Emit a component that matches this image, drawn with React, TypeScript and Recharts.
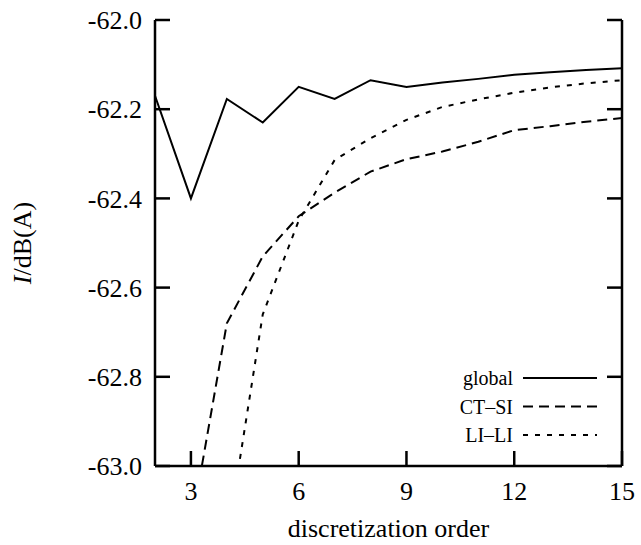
import React from 'react';
import { LineChart, Line, XAxis, YAxis, Legend, Label } from 'recharts';

const orders = [2, 3, 4, 5, 6, 7, 8, 9, 10, 11, 12, 13, 14, 15];
const globalVals = [-62.17, -62.4, -62.177, -62.23, -62.15, -62.177, -62.135, -62.15, -62.14, -62.132, -62.123, -62.117, -62.112, -62.108];
const ctsiVals = [null, -63.14, -62.68, -62.53, -62.44, -62.387, -62.34, -62.312, -62.295, -62.273, -62.247, -62.238, -62.228, -62.22];
const liliVals = [null, null, -63.17, -62.66, -62.45, -62.314, -62.265, -62.224, -62.195, -62.178, -62.163, -62.151, -62.142, -62.135];

const seriesKeys = ['global', 'ctsi', 'lili'];
const xTicks = [3, 6, 9, 12, 15];
const yTicks = [-63.0, -62.8, -62.6, -62.4, -62.2, -62.0];

const data = orders.map((o, i) => ({
  order: o,
  global: globalVals[i],
  ctsi: ctsiVals[i],
  lili: liliVals[i],
}));

const FONT = '"Liberation Serif", "DejaVu Serif", serif';
const TICK_LEN = 15;
const SW = 2.5;
const dashes: Record<string, string | undefined> = { global: undefined, ctsi: '10 6', lili: '5 7' };

const BottomTick = (props: any) => {
  const { x, y, payload } = props;
  const axisY = y - 16;
  return (
    <g>
      <line x1={x} x2={x} y1={axisY} y2={axisY - TICK_LEN} stroke="#000" strokeWidth={SW} />
      <text x={x} y={y} dy="0.71em" textAnchor="middle" fontFamily={FONT} fontSize={26} fill="#000">
        {payload.value}
      </text>
    </g>
  );
};

const TopTick = (props: any) => {
  const { x, y } = props;
  return <line x1={x} x2={x} y1={y} y2={y + TICK_LEN} stroke="#000" strokeWidth={SW} />;
};

const LeftTick = (props: any) => {
  const { x, y, payload } = props;
  const axisX = x + 13;
  return (
    <g>
      <line x1={axisX} x2={axisX + TICK_LEN} y1={y} y2={y} stroke="#000" strokeWidth={SW} />
      <text x={x} y={y} dy="0.355em" textAnchor="end" fontFamily={FONT} fontSize={26} fill="#000">
        {payload.value.toFixed(1)}
      </text>
    </g>
  );
};

const RightTick = (props: any) => {
  const { x, y } = props;
  return <line x1={x} x2={x - TICK_LEN} y1={y} y2={y} stroke="#000" strokeWidth={SW} />;
};

const YTitle = (props: any) => {
  const { viewBox } = props;
  const cx = viewBox.x + 31;
  const cy = viewBox.y + viewBox.height / 2;
  return (
    <text x={cx} y={cy} transform={`rotate(-90, ${cx}, ${cy})`} textAnchor="middle" fontFamily={FONT} fontSize={26} fill="#000">
      <tspan fontStyle="italic">I</tspan>/dB(A)
    </text>
  );
};

const XTitle = (props: any) => {
  const { viewBox } = props;
  const cx = viewBox.x + viewBox.width / 2;
  return (
    <text x={cx} y={537} textAnchor="middle" fontFamily={FONT} fontSize={26} fill="#000">
      discretization order
    </text>
  );
};

const LegendBox = (props: any) => {
  const items = [...(props.payload || [])].sort(
    (a: any, b: any) => seriesKeys.indexOf(a.dataKey) - seriesKeys.indexOf(b.dataKey),
  );
  return (
    <svg width={180} height={90}>
      {items.map((p: any, i: number) => {
        const cy = 16 + i * 28.5;
        return (
          <g key={p.dataKey}>
            <text x={83} y={cy} dy="0.35em" textAnchor="end" fontFamily={FONT} fontSize={20} fill="#000">
              {p.value}
            </text>
            <line x1={93} x2={167} y1={cy} y2={cy} stroke="#000" strokeWidth={2} strokeDasharray={dashes[p.dataKey]} />
          </g>
        );
      })}
    </svg>
  );
};

export default function App() {
  return (
    <div style={{ position: 'absolute', left: 0, top: 0, background: '#fff' }}>
      <LineChart width={641} height={545} data={data} margin={{ top: 20, right: 0, bottom: 0, left: 0 }}>
        <XAxis
          xAxisId="b"
          dataKey="order"
          type="number"
          domain={[2, 15]}
          ticks={xTicks}
          allowDataOverflow
          height={79}
          tickSize={0}
          tickMargin={16}
          tick={<BottomTick />}
          axisLine={{ stroke: '#000', strokeWidth: SW }}
        >
          <Label content={<XTitle />} />
        </XAxis>
        <XAxis
          xAxisId="t"
          orientation="top"
          dataKey="order"
          type="number"
          domain={[2, 15]}
          ticks={xTicks}
          allowDataOverflow
          height={0}
          tickSize={0}
          tickMargin={0}
          tick={<TopTick />}
          axisLine={{ stroke: '#000', strokeWidth: SW }}
        />
        <YAxis
          yAxisId="l"
          type="number"
          domain={[-63, -62]}
          ticks={yTicks}
          allowDataOverflow
          width={155}
          tickSize={0}
          tickMargin={13}
          tick={<LeftTick />}
          axisLine={{ stroke: '#000', strokeWidth: SW }}
        >
          <Label content={<YTitle />} />
        </YAxis>
        <YAxis
          yAxisId="r"
          orientation="right"
          type="number"
          domain={[-63, -62]}
          ticks={yTicks}
          allowDataOverflow
          width={19}
          tickSize={0}
          tickMargin={0}
          tick={<RightTick />}
          axisLine={{ stroke: '#000', strokeWidth: SW }}
        />
        <Legend
          layout="vertical"
          verticalAlign="middle"
          align="center"
          content={<LegendBox />}
          wrapperStyle={{ left: 430, top: 362, width: 180, height: 90 }}
        />
        <Line xAxisId="b" yAxisId="l" name="global" dataKey="global" stroke="#000" strokeWidth={2} dot={false} isAnimationActive={false} />
        <Line xAxisId="b" yAxisId="l" name="CT–SI" dataKey="ctsi" stroke="#000" strokeWidth={2} strokeDasharray={dashes.ctsi} dot={false} isAnimationActive={false} />
        <Line xAxisId="b" yAxisId="l" name="LI–LI" dataKey="lili" stroke="#000" strokeWidth={2} strokeDasharray={dashes.lili} dot={false} isAnimationActive={false} />
      </LineChart>
    </div>
  );
}
